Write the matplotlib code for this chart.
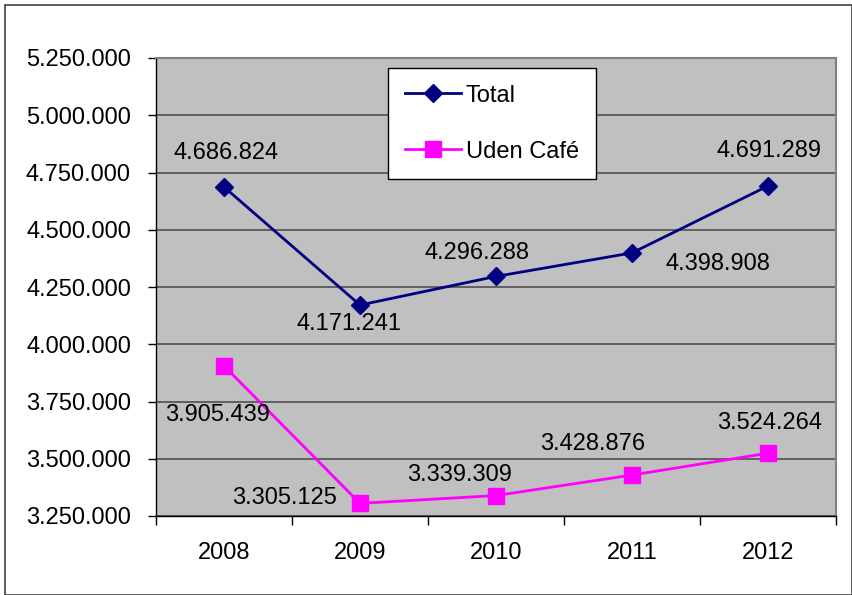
import matplotlib
matplotlib.use("Agg")
import matplotlib.pyplot as plt
from matplotlib.ticker import FuncFormatter, FixedLocator
from matplotlib.patches import Rectangle

plt.rcParams['font.family'] = ['Liberation Sans', 'DejaVu Sans']

years = ["2008", "2009", "2010", "2011", "2012"]
total = [4686824, 4171241, 4296288, 4398908, 4691289]
uden_cafe = [3905439, 3305125, 3339309, 3428876, 3524264]
series_names = ["Total", "Uden Café"]

total_offsets = [(2, 35), (-11, -18), (-19, 24), (86, -10), (1, 36)]
cafe_offsets = [(-6, -48), (-75, 6), (-36, 22), (-39, 32), (2, 31)]

FS = 17
W, H = 853, 595
fig = plt.figure(figsize=(W / 100, H / 100), dpi=100)
fig.patch.set_facecolor("white")
fig.patches.append(Rectangle((5 / W, 0), (W - 6) / W, (H - 5) / H, transform=fig.transFigure,
                             fill=False, edgecolor="#404040", linewidth=1.2))

ax = fig.add_axes([156 / W, 1 - 516 / H, 680 / W, 458 / H])
ax.set_facecolor("#C0C0C0")
x = list(range(len(years)))

ax.set_xlim(-0.5, len(years) - 0.5)
ax.set_ylim(3250000, 5250000)
yt = list(range(3250000, 5250001, 250000))
ax.yaxis.set_major_locator(FixedLocator(yt))
ax.yaxis.set_major_formatter(FuncFormatter(lambda v, p: f"{int(v):,}".replace(",", ".")))
ax.grid(axis="y", color="#505050", linewidth=1.2)
ax.set_axisbelow(True)

ax.set_xticks(x)
ax.set_xticklabels(years)
ax.set_xticks([i - 0.5 for i in range(len(years) + 1)], minor=True)
ax.tick_params(axis="x", which="major", length=0, pad=19, labelsize=FS)
ax.tick_params(axis="x", which="minor", length=6.5, width=1, color="black")
ax.tick_params(axis="y", length=6, width=1, pad=12, labelsize=FS)

for s in ["top", "right"]:
    ax.spines[s].set_color("#808080")
    ax.spines[s].set_linewidth(1.5)
for s in ["left", "bottom"]:
    ax.spines[s].set_color("black")
    ax.spines[s].set_linewidth(1)

l1, = ax.plot(x, total, color="#000080", linewidth=2, marker="D", markersize=9, label=series_names[0], zorder=3)
l2, = ax.plot(x, uden_cafe, color="#FF00FF", linewidth=2, marker="s", markersize=11, label=series_names[1], zorder=3)

for xi, v, off in zip(x, total, total_offsets):
    ax.annotate(f"{v:,}".replace(",", "."), (xi, v), xytext=(off[0], off[1] - 1), textcoords="offset pixels",
                ha="center", va="center", fontsize=FS, zorder=4)
for xi, v, off in zip(x, uden_cafe, cafe_offsets):
    ax.annotate(f"{v:,}".replace(",", "."), (xi, v), xytext=(off[0], off[1] - 1), textcoords="offset pixels",
                ha="center", va="center", fontsize=FS, zorder=4)

leg = fig.legend(handles=[l1, l2], loc="upper left", bbox_to_anchor=(388 / W, 1 - 68 / H),
                 fontsize=FS, frameon=True, fancybox=False, framealpha=1, edgecolor="black",
                 labelspacing=1.45, handlelength=2.4, handletextpad=0.2, borderpad=0.7,
                 borderaxespad=0)
leg.get_frame().set_linewidth(1)

fig.savefig("out.png", dpi=100)
